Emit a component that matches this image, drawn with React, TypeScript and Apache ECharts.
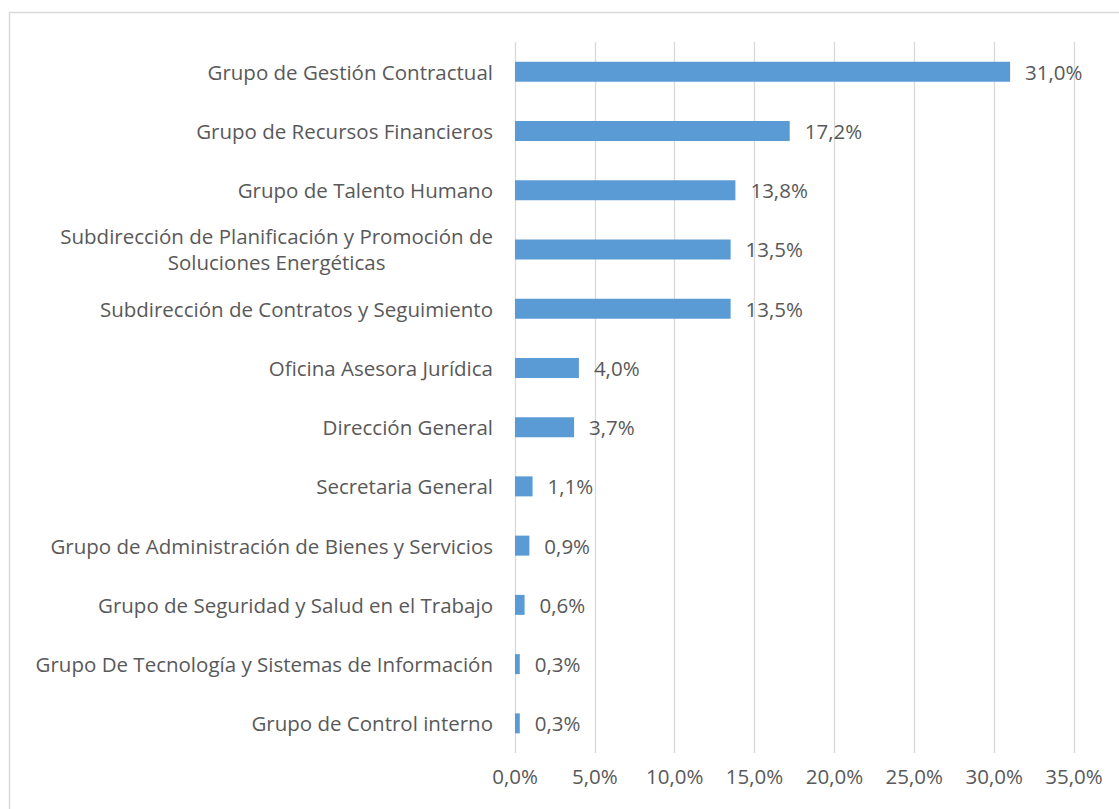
import React, { useEffect, useRef } from "react";
import * as echarts from "echarts";

const categories = [
  "Grupo de Gestión Contractual",
  "Grupo de Recursos Financieros",
  "Grupo de Talento Humano",
  "Subdirección de Planificación y Promoción de\nSoluciones Energéticas",
  "Subdirección de Contratos y Seguimiento",
  "Oficina Asesora Jurídica",
  "Dirección General",
  "Secretaria General",
  "Grupo de Administración de Bienes y Servicios",
  "Grupo de Seguridad y Salud en el Trabajo",
  "Grupo De Tecnología y Sistemas de Información",
  "Grupo de Control interno",
];

const values = [31.0, 17.2, 13.8, 13.5, 13.5, 4.0, 3.7, 1.1, 0.9, 0.6, 0.3, 0.3];

const xMin = 0;
const xMax = 35;
const xInterval = 5;

const fmt = (v: number) => v.toFixed(1).replace(".", ",") + "%";

export default function App() {
  const ref = useRef<HTMLDivElement>(null);
  useEffect(() => {
    if (!ref.current) return;
    const chart = echarts.init(ref.current, undefined, { renderer: "svg" });
    const font = "'Open Sans', sans-serif";
    const fs = 20.5;
    chart.setOption({
      animation: false,
      backgroundColor: "#ffffff",
      textStyle: { fontFamily: font },
      graphic: [
        {
          type: "rect",
          shape: { x: 9.5, y: 12.5, width: 1200, height: 900 },
          style: { fill: "none", stroke: "#d9d9d9", lineWidth: 1.5 },
          silent: true,
        },
      ],
      grid: { left: 515, right: 45, top: 42, bottom: 56, containLabel: false },
      xAxis: {
        type: "value",
        min: xMin,
        max: xMax,
        interval: xInterval,
        axisLine: { show: false },
        axisTick: { show: false },
        splitLine: { show: true, lineStyle: { color: "#d9d9d9", width: 1.3 } },
        axisLabel: {
          formatter: (v: number) => fmt(v),
          color: "#595959",
          fontSize: fs,
          fontFamily: font,
          margin: 12,
        },
      },
      yAxis: {
        type: "category",
        inverse: true,
        data: categories,
        axisLine: { show: false },
        axisTick: { show: false },
        axisLabel: {
          color: "#595959",
          fontSize: fs,
          fontFamily: font,
          margin: 22,
          lineHeight: 26,
          formatter: (v: string) =>
            v
              .split("\n")
              .map((l) => "{c|" + l + "}")
              .join("\n"),
          rich: {
            c: { align: "center", color: "#595959", fontSize: fs, fontFamily: font, lineHeight: 26 },
          },
        },
      },
      series: [
        {
          type: "bar",
          data: values,
          barWidth: 20,
          itemStyle: { color: "#5b9bd5" },
          label: {
            show: true,
            position: "right",
            distance: 15,
            color: "#595959",
            fontSize: fs,
            fontFamily: font,
            formatter: (p: any) => fmt(p.value),
          },
        },
      ],
    });
    return () => chart.dispose();
  }, []);
  return (
    <div
      ref={ref}
      style={{ position: "fixed", left: 0, top: 0, width: 1119, height: 809 }}
    />
  );
}
